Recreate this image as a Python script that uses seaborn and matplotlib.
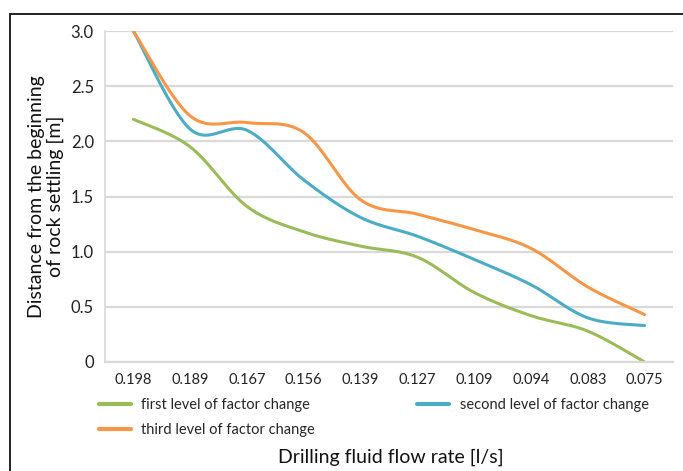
import numpy as np
import pandas as pd
import matplotlib
matplotlib.use("Agg")
import matplotlib.pyplot as plt
import matplotlib.patches as mpatches
import seaborn as sns

categories = ["0.198", "0.189", "0.167", "0.156", "0.139", "0.127", "0.109", "0.094", "0.083", "0.075"]
first_level = [2.20, 1.95, 1.41, 1.18, 1.05, 0.95, 0.63, 0.42, 0.28, 0.00]
second_level = [3.00, 2.11, 2.10, 1.65, 1.31, 1.14, 0.93, 0.70, 0.40, 0.33]
third_level = [3.00, 2.23, 2.17, 2.08, 1.47, 1.34, 1.20, 1.03, 0.68, 0.43]
series_names = ["first level of factor change", "second level of factor change", "third level of factor change"]
y_ticks = [0, 0.5, 1.0, 1.5, 2.0, 2.5, 3.0]
y_tick_labels = ["0", "0.5", "1.0", "1.5", "2.0", "2.5", "3.0"]

colors = ["#9BBB59", "#4BACC6", "#F79646"]


def smooth(values, n=30):
    """Excel-like smoothed line (Catmull-Rom through the data points)."""
    y = np.asarray(values, dtype=float)
    x = np.arange(len(y), dtype=float)
    px = np.concatenate([[x[0]], x, [x[-1]]])
    py = np.concatenate([[y[0]], y, [y[-1]]])
    xs, ys = [], []
    for i in range(1, len(px) - 2):
        p0x, p1x, p2x, p3x = px[i - 1], px[i], px[i + 1], px[i + 2]
        p0y, p1y, p2y, p3y = py[i - 1], py[i], py[i + 1], py[i + 2]
        c1x, c1y = p1x + (p2x - p0x) / 6, p1y + (p2y - p0y) / 6
        c2x, c2y = p2x - (p3x - p1x) / 6, p2y - (p3y - p1y) / 6
        t = np.linspace(0, 1, n, endpoint=(i == len(px) - 3))
        b0, b1, b2, b3 = (1 - t) ** 3, 3 * (1 - t) ** 2 * t, 3 * (1 - t) * t ** 2, t ** 3
        xs.append(b0 * p1x + b1 * c1x + b2 * c2x + b3 * p2x)
        ys.append(b0 * p1y + b1 * c1y + b2 * c2y + b3 * p2y)
    return np.concatenate(xs), np.concatenate(ys)


sns.set_theme(style="white")
plt.rcParams["font.family"] = ["Lato", "DejaVu Sans"]

fig = plt.figure(figsize=(6.83, 4.71), dpi=100)
ax = fig.add_axes([105 / 683, 1 - 362 / 471, (673 - 105) / 683, (362 - 31) / 471])

frames = []
for name, vals in zip(series_names, [first_level, second_level, third_level]):
    sx, sy = smooth(vals)
    frames.append(pd.DataFrame({"x": sx, "y": sy, "series": name}))
df = pd.concat(frames, ignore_index=True)

sns.lineplot(data=df, x="x", y="y", hue="series", palette=colors, hue_order=series_names,
             linewidth=2.2, ax=ax, sort=False, estimator=None, legend=False)

ax.set_xlim(-0.5, len(categories) - 0.5)
ax.set_ylim(0, 3.0)
ax.set_xticks(range(len(categories)))
ax.set_xticklabels(categories, fontsize=10.5, color="#222222")
ax.set_yticks(y_ticks)
ax.set_yticklabels(y_tick_labels, fontsize=12, color="#222222")
ax.tick_params(axis="both", length=0, pad=8)
ax.grid(axis="y", color="#D9D9D9", linewidth=1.6)
ax.set_axisbelow(True)
for side in ["top", "right"]:
    ax.spines[side].set_visible(False)
ax.spines["left"].set_color("#D9D9D9")
ax.spines["left"].set_linewidth(1.2)
ax.spines["bottom"].set_color("#D9D9D9")
ax.spines["bottom"].set_linewidth(1.6)
ax.set_xlabel("")
ax.set_ylabel("Distance from the beginning\nof rock settling [m]", fontsize=14, color="#111111",
              linespacing=1.1)
ax.yaxis.set_label_coords((64 - 105) / 568, 0.5)

handles = [plt.Line2D([], [], color=c, linewidth=3) for c in colors]
order = [0, 2, 1]
fig.legend([handles[i] for i in order], [series_names[i] for i in order],
           loc="upper left", bbox_to_anchor=(86 / 683, 1 - 385 / 471), ncol=2,
           frameon=False, fontsize=10.5, handlelength=2.2, columnspacing=7.0,
           labelspacing=0.75, handletextpad=0.7)

fig.text(391 / 683, 1 - 457 / 471, "Drilling fluid flow rate [l/s]", ha="center", va="center",
         fontsize=14, color="#111111")

rect = mpatches.Rectangle((10 / 683, -0.2), 1.2, 1.2 - 14 / 471, transform=fig.transFigure,
                          fill=False, edgecolor="#111111", linewidth=1.3, clip_on=False)
fig.patches.append(rect)

fig.savefig("out.png", dpi=100)
